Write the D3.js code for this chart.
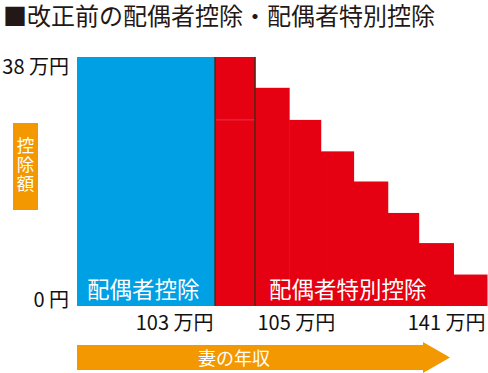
<!DOCTYPE html>
<html>
<head>
<meta charset="utf-8">
<script src="https://cdn.jsdelivr.net/npm/d3@7"></script>
<style>
  body { margin: 0; background: #fff; }
  text { font-family: "Noto Sans CJK JP", "Noto Sans", sans-serif; }
</style>
</head>
<body>
<svg id="chart" width="488" height="373"></svg>
<script>
  // income breakpoints (万円) and the deduction (万円) of each block between them
  var incomeBreaks = [0, 103, 105, 110.3, 115.2, 120.3, 125.6, 130.4, 135.8, 141];
  var deductions = [38, 38, 33.3, 28.4, 23.6, 19, 14.2, 9.6, 4.8];
  var blockKinds = ["配偶者控除", "配偶者特別控除", "配偶者特別控除", "配偶者特別控除",
                    "配偶者特別控除", "配偶者特別控除", "配偶者特別控除", "配偶者特別控除",
                    "配偶者特別控除"];
  var xTicks = [103, 105, 141];
  var xTickLabels = ["103 万円", "105 万円", "141 万円"];
  var yTicks = [0, 38];
  var yTickLabels = ["0 円", "38 万円"];

  var blue = "#00a0e4", red = "#e50012", orange = "#f39800";

  var svg = d3.select("#chart");

  // the picture is not to scale: 0-103 is squeezed, 103-105 stretched
  var x = d3.scaleLinear().domain([0, 103, 105, 141]).range([77, 215, 255, 487]);
  var y = d3.scaleLinear().domain([0, 38]).range([306, 57]);

  svg.append("text")
    .attr("x", 3).attr("y", 25)
    .attr("font-size", 24)
    .attr("fill", "#231815")
    .text("■改正前の配偶者控除・配偶者特別控除");

  var blocks = deductions.map(function(d, i) {
    return { from: incomeBreaks[i], to: incomeBreaks[i + 1], value: d, kind: blockKinds[i] };
  });

  svg.append("g").selectAll("rect")
    .data(blocks)
    .join("rect")
    .attr("x", function(d) { return x(d.from); })
    .attr("y", function(d) { return y(d.value); })
    .attr("width", function(d) { return x(d.to) - x(d.from) + 0.5; })
    .attr("height", function(d) { return y(0) - y(d.value); })
    .attr("fill", function(d) { return d.kind == "配偶者控除" ? blue : red; });

  // faint seam left over in the first red block
  svg.append("line")
    .attr("x1", x(103)).attr("x2", x(105))
    .attr("y1", y(deductions[3])).attr("y2", y(deductions[3]))
    .attr("stroke", "#ec4a58").attr("stroke-width", 0.7);

  // dark separators at 103 and 105
  svg.append("g").selectAll("line")
    .data([103, 105])
    .join("line")
    .attr("x1", function(d) { return x(d); })
    .attr("x2", function(d) { return x(d); })
    .attr("y1", y(38))
    .attr("y2", y(0))
    .attr("stroke", "#3a2a1a")
    .attr("stroke-width", 1.3);

  // labels inside the blocks
  svg.append("text")
    .attr("x", 87).attr("y", 298)
    .attr("font-size", 22.5).attr("fill", "#fff")
    .text("配偶者控除");
  svg.append("text")
    .attr("x", 269).attr("y", 298)
    .attr("font-size", 22.5).attr("fill", "#fff")
    .text("配偶者特別控除");

  // x axis
  var xAxis = svg.append("g")
    .attr("transform", "translate(0," + y(0) + ")")
    .call(d3.axisBottom(x).tickValues(xTicks).tickSize(0)
      .tickFormat(function(d, i) { return xTickLabels[i]; }));
  xAxis.select(".domain").remove();
  xAxis.selectAll("text")
    .attr("y", 24).attr("dy", 0)
    .attr("font-size", 20)
    .attr("font-family", "'Noto Sans CJK JP', sans-serif")
    .attr("fill", "#111")
    .attr("text-anchor", function(d) { return d == 105 ? "start" : "end"; })
    .attr("dx", function(d) { return d == 105 ? 2 : -2; });

  // y axis
  var yAxis = svg.append("g")
    .attr("transform", "translate(69,0)")
    .call(d3.axisLeft(y).tickValues(yTicks).tickSize(0).tickPadding(0)
      .tickFormat(function(d, i) { return yTickLabels[i]; }));
  yAxis.select(".domain").remove();
  yAxis.selectAll("text")
    .attr("font-size", 20)
    .attr("font-family", "'Noto Sans CJK JP', sans-serif")
    .attr("fill", "#111")
    .attr("dy", function(d) { return d == 38 ? "0.8em" : "0em"; });

  // y title box, written top to bottom
  svg.append("rect")
    .attr("x", 13).attr("y", 123).attr("width", 25).attr("height", 87)
    .attr("fill", orange);
  svg.append("text")
    .attr("x", 25.5).attr("y", 137)
    .attr("font-size", 17.5).attr("fill", "#fff")
    .style("writing-mode", "vertical-rl")
    .attr("letter-spacing", 1.5)
    .text("控除額");

  // x title arrow
  var arrow = d3.path();
  arrow.moveTo(x(0), 345);
  arrow.lineTo(423, 345);
  arrow.lineTo(423, 342);
  arrow.lineTo(450, 357.5);
  arrow.lineTo(423, 373);
  arrow.lineTo(423, 370);
  arrow.lineTo(x(0), 370);
  arrow.closePath();
  svg.append("path").attr("d", arrow.toString()).attr("fill", orange);
  svg.append("text")
    .attr("x", 234).attr("y", 364.5)
    .attr("font-size", 18).attr("fill", "#fff")
    .attr("text-anchor", "middle")
    .text("妻の年収");
</script>
</body>
</html>
